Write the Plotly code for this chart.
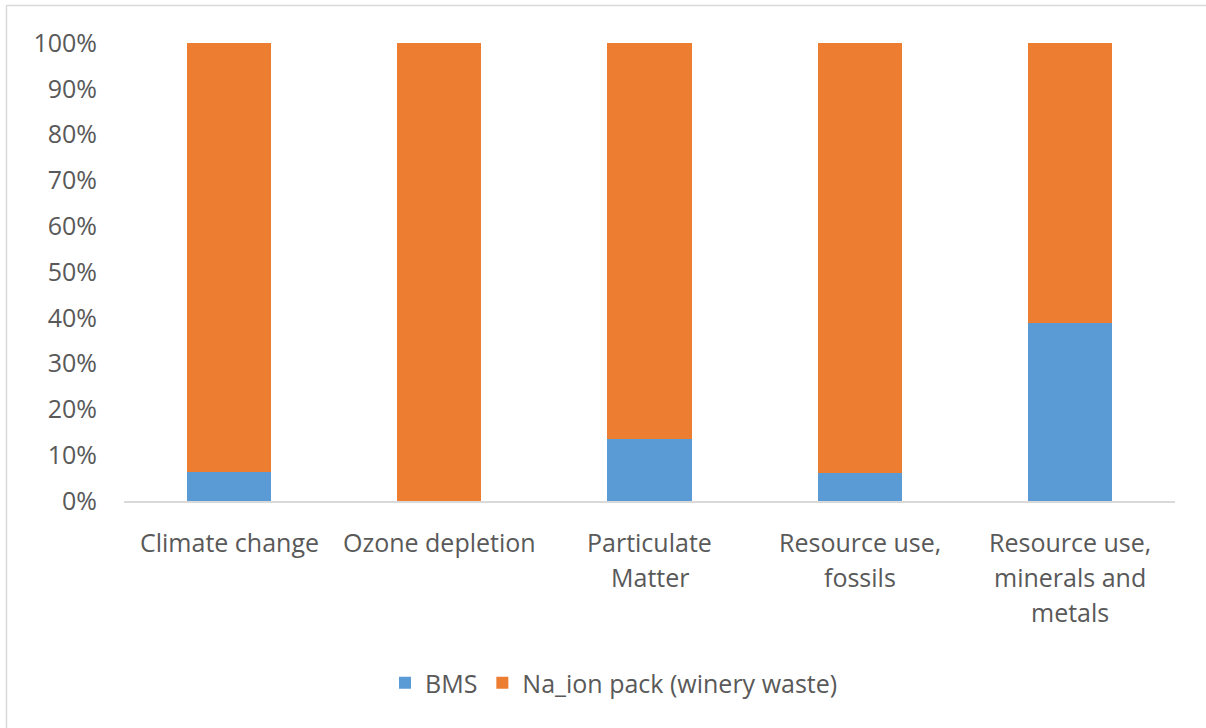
import plotly.graph_objects as go

categories = ["Climate change", "Ozone depletion", "Particulate<br>Matter",
              "Resource use,<br>fossils", "Resource use,<br>minerals and<br>metals"]
bms_share = [6.3, 0.1, 13.5, 6.1, 38.9]
na_ion_share = [100 - v for v in bms_share]
tick_vals = [0, 10, 20, 30, 40, 50, 60, 70, 80, 90, 100]
tick_text = [f"{v}%" for v in tick_vals]

W, H = 1206, 728
L, R, T, B = 124, 31, 43, 227
plot_w, plot_h = W - L - R, H - T - B

FONT = "Open Sans"
FS = 25
TXT = "#595959"

fig = go.Figure()
fig.add_trace(go.Bar(name="BMS", x=list(range(len(categories))), y=bms_share,
                     marker=dict(color="#5B9BD5", line=dict(width=0))))
fig.add_trace(go.Bar(name="Na_ion pack (winery waste)", x=list(range(len(categories))),
                     y=na_ion_share, marker=dict(color="#ED7D31", line=dict(width=0))))

# category labels, one line at a time so the line spacing is controlled
line_gap = 35
for i, cat in enumerate(categories):
    for j, line in enumerate(cat.split("<br>")):
        fig.add_annotation(x=i, xref="x", y=0, yref="y", text=line, showarrow=False,
                           yanchor="middle", xanchor="center",
                           yshift=-(41 + j * line_gap),
                           font=dict(family=FONT, size=FS, color=TXT))


def px_x(px):
    return (px - L) / plot_w


def px_y(py):
    return (H - B - py) / plot_h


# light chart frame
fig.add_shape(type="rect", xref="paper", yref="paper",
              x0=px_x(6.5), x1=px_x(1240), y0=px_y(5.5), y1=px_y(760),
              line=dict(color="#D9D9D9", width=1.5), fillcolor="rgba(0,0,0,0)", layer="below")

fig.update_layout(
    width=W, height=H,
    margin=dict(l=L, r=R, t=T, b=B, autoexpand=False),
    barmode="stack", bargap=0.6,
    plot_bgcolor="white", paper_bgcolor="white",
    font=dict(family=FONT, size=FS, color=TXT),
    showlegend=True,
    legend=dict(orientation="h", x=px_x(614), y=px_y(683), xanchor="center", yanchor="middle",
                font=dict(family=FONT, size=FS, color=TXT), itemwidth=30,
                traceorder="normal", bgcolor="rgba(0,0,0,0)"),
    xaxis=dict(range=[-0.5, len(categories) - 0.5], showticklabels=False, ticks="",
               showgrid=False, zeroline=False, showline=True, linecolor="#D9D9D9", linewidth=1.5),
    yaxis=dict(range=[0, 100], tickvals=tick_vals, ticktext=tick_text, showgrid=False,
               zeroline=False, showline=False, ticks="", ticklabelstandoff=26,
               tickfont=dict(family=FONT, size=FS, color=TXT)),
)

fig.write_html("out.html")
